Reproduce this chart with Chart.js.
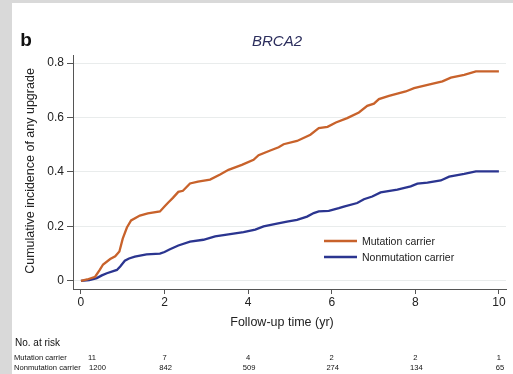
<!DOCTYPE html>
<html>
<head>
<meta charset="utf-8">
<script src="https://cdn.jsdelivr.net/npm/chart.js@4/dist/chart.umd.min.js"></script>
<style>
  html, body { margin: 0; padding: 0; background: #d9d9d9; width: 513px; height: 374px; overflow: hidden; }
  #panel { position: absolute; left: 12px; top: 3px; width: 501px; height: 371px; background: #ffffff; }
  #c { display: block; }
</style>
</head>
<body>
<div id="panel"><canvas id="c" width="501" height="371"></canvas></div>
<script>
// ---- Data ----
const seriesNames = ["Mutation carrier", "Nonmutation carrier"];
const mutationTimes  = [0, 0.15, 0.34, 0.45, 0.53, 0.7, 0.82, 0.92, 1.0, 1.1, 1.2, 1.41, 1.6, 1.89, 2.01, 2.09, 2.2, 2.33, 2.44, 2.61, 2.8, 3.09, 3.33, 3.53, 3.85, 4.13, 4.25, 4.53, 4.73, 4.85, 5.17, 5.49, 5.69, 5.9, 6.1, 6.37, 6.65, 6.85, 7.01, 7.13, 7.37, 7.77, 7.97, 8.37, 8.65, 8.85, 9.17, 9.45, 10.0];
const mutationValues = [0, 0.005, 0.015, 0.04, 0.06, 0.08, 0.09, 0.108, 0.155, 0.196, 0.222, 0.24, 0.248, 0.255, 0.275, 0.288, 0.305, 0.327, 0.331, 0.358, 0.365, 0.372, 0.391, 0.408, 0.426, 0.445, 0.462, 0.479, 0.491, 0.502, 0.514, 0.537, 0.561, 0.566, 0.582, 0.598, 0.619, 0.643, 0.651, 0.668, 0.68, 0.696, 0.708, 0.723, 0.733, 0.747, 0.757, 0.77, 0.77];
const nonmutTimes  = [0, 0.2, 0.38, 0.5, 0.62, 0.86, 0.94, 1.05, 1.15, 1.29, 1.57, 1.89, 2.0, 2.13, 2.33, 2.61, 2.93, 3.21, 3.57, 3.89, 4.17, 4.37, 4.69, 4.93, 5.17, 5.41, 5.57, 5.69, 5.93, 6.17, 6.29, 6.61, 6.77, 6.97, 7.17, 7.57, 7.89, 8.05, 8.29, 8.61, 8.81, 9.17, 9.45, 10.0];
const nonmutValues = [0, 0.003, 0.01, 0.02, 0.028, 0.04, 0.053, 0.074, 0.082, 0.089, 0.097, 0.1, 0.106, 0.116, 0.13, 0.144, 0.151, 0.163, 0.172, 0.179, 0.188, 0.2, 0.21, 0.218, 0.224, 0.236, 0.249, 0.255, 0.257, 0.267, 0.273, 0.286, 0.3, 0.31, 0.325, 0.335, 0.347, 0.357, 0.361, 0.369, 0.383, 0.393, 0.402, 0.402];
const xTickValues = [0, 2, 4, 6, 8, 10];
const yTickValues = [0, 0.2, 0.4, 0.6, 0.8];
const yTickLabels = ["0", "0.2", "0.4", "0.6", "0.8"];
const riskTimes = [0, 2, 4, 6, 8, 10];
const riskMutation = [11, 7, 4, 2, 2, 1];
const riskNonmut = [1200, 842, 509, 274, 134, 65];
const panelLetter = "b";
const chartTitle = "BRCA2";
const xTitle = "Follow-up time (yr)";
const yTitle = "Cumulative incidence of any upgrade";
const riskHeader = "No. at risk";

// ---- Styles ----
const FONT = '"Liberation Sans", Arial, Helvetica, sans-serif';
const ORANGE = "#c8622b";
const BLUE = "#2b3590";

function toPoints(xs, ys) { return xs.map((x, i) => ({ x: x, y: ys[i] })); }

const annotate = {
  id: "annotate",
  afterDraw(chart) {
    const ctx = chart.ctx;
    const xs = chart.scales.x;
    ctx.save();
    // panel letter
    ctx.fillStyle = "#111";
    ctx.font = "bold 19px " + FONT;
    ctx.textAlign = "center"; ctx.textBaseline = "middle";
    ctx.fillText(panelLetter, 14, 38);
    // title
    ctx.fillStyle = "#2b2d5c";
    ctx.font = "italic 15px " + FONT;
    ctx.fillText(chartTitle, 265, 39);
    // x title
    ctx.fillStyle = "#222";
    ctx.font = "12.5px " + FONT;
    ctx.fillText(xTitle, 270, 320);
    // y title
    ctx.save();
    ctx.translate(19, 168);
    ctx.rotate(-Math.PI / 2);
    ctx.fillText(yTitle, 0, 0);
    ctx.restore();
    // legend
    const lx0 = 312, lx1 = 345, ly = [238, 254];
    const cols = [ORANGE, BLUE];
    ctx.font = "10.5px " + FONT;
    ctx.textAlign = "left";
    for (let i = 0; i < 2; i++) {
      ctx.strokeStyle = cols[i]; ctx.lineWidth = 2.4;
      ctx.beginPath(); ctx.moveTo(lx0, ly[i]); ctx.lineTo(lx1, ly[i]); ctx.stroke();
      ctx.fillStyle = "#222";
      ctx.fillText(seriesNames[i], lx1 + 5, ly[i] + 1);
    }
    // risk table
    ctx.fillStyle = "#111";
    ctx.font = "10px " + FONT;
    ctx.textAlign = "left";
    ctx.fillText(riskHeader, 3, 340);
    ctx.font = "7.6px " + FONT;
    ctx.fillText(seriesNames[0], 2, 354.5);
    ctx.fillText(seriesNames[1], 2, 364.5);
    ctx.textAlign = "center";
    riskTimes.forEach((t, i) => {
      const px = xs.getPixelForValue(t);
      const offM = i === 0 ? 11 : 0;
      const offN = i === 0 ? 16.5 : 1;
      ctx.fillText(String(riskMutation[i]), px + offM, 354.5);
      ctx.fillText(String(riskNonmut[i]), px + offN, 364.5);
    });
    ctx.restore();
  }
};

new Chart(document.getElementById("c"), {
  type: "scatter",
  data: {
    datasets: [
      { label: seriesNames[0], data: toPoints(mutationTimes, mutationValues), showLine: true, borderColor: ORANGE, borderWidth: 2.3, pointRadius: 0, tension: 0, fill: false },
      { label: seriesNames[1], data: toPoints(nonmutTimes, nonmutValues), showLine: true, borderColor: BLUE, borderWidth: 2.3, pointRadius: 0, tension: 0, fill: false }
    ]
  },
  options: {
    responsive: false,
    animation: false,
    devicePixelRatio: 1,
    layout: { padding: { left: 0, right: 7, top: 52, bottom: 65 } },
    plugins: { legend: { display: false }, tooltip: { enabled: false }, title: { display: false } },
    scales: {
      x: {
        type: "linear",
        min: -0.19, max: 10.17,
        afterBuildTicks: (s) => { s.ticks = xTickValues.map(v => ({ value: v })); },
        afterFit: (s) => { s.height = 20; },
        ticks: { color: "#222", font: { family: FONT, size: 12 }, padding: 1, maxRotation: 0, callback: (v) => String(v) },
        grid: { drawOnChartArea: false, drawTicks: true, tickLength: 5, tickColor: "#555" },
        border: { display: true, color: "#555", width: 1 }
      },
      y: {
        type: "linear",
        min: -0.03, max: 0.83,
        afterBuildTicks: (s) => { s.ticks = yTickValues.map(v => ({ value: v })); },
        afterFit: (s) => { s.width = 61; },
        ticks: { color: "#222", font: { family: FONT, size: 12 }, padding: 3,
          callback: (v) => { const i = yTickValues.findIndex(t => Math.abs(t - v) < 1e-9); return i >= 0 ? yTickLabels[i] : ""; } },
        grid: { drawOnChartArea: true, color: "#e9ecec", lineWidth: 1, drawTicks: true, tickLength: 6, tickColor: "#555" },
        border: { display: true, color: "#555", width: 1 }
      }
    }
  },
  plugins: [annotate]
});
</script>
</body>
</html>
